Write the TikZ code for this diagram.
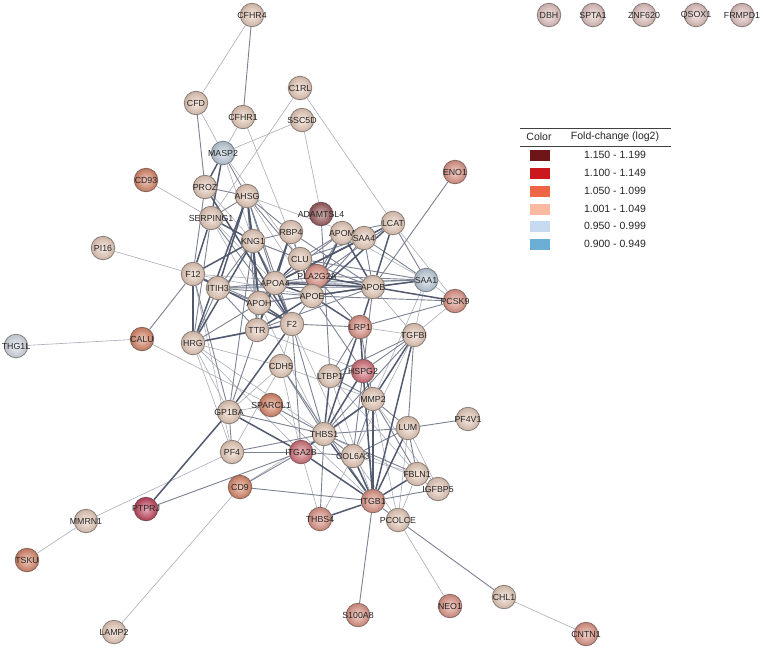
\documentclass[tikz,border=0pt]{standalone}
\usepackage{fontspec}
\setmainfont{Liberation Sans}
\pgfdeclarelayer{bg}
\pgfdeclarelayer{edges}
\pgfsetlayers{bg,edges,main}
\definecolor{pale}{HTML}{EFD2C0}
\definecolor{redd}{HTML}{E6998A}
\definecolor{orng}{HTML}{E08A6C}
\definecolor{pink}{HTML}{D9737C}
\definecolor{deep}{HTML}{C8455E}
\definecolor{mauve}{HTML}{9E5C5E}
\definecolor{blu}{HTML}{C3D3E2}
\definecolor{blul}{HTML}{DCE2EC}
\definecolor{lone}{HTML}{E9C9C6}
\definecolor{ethick}{HTML}{525A70}
\definecolor{emed}{HTML}{7C8292}
\definecolor{ethin}{HTML}{ABAEB8}
\definecolor{lg1}{HTML}{6E1518}
\definecolor{lg2}{HTML}{CB181D}
\definecolor{lg3}{HTML}{EF6548}
\definecolor{lg4}{HTML}{FCBBA1}
\definecolor{lg5}{HTML}{C6DBEF}
\definecolor{lg6}{HTML}{6BAED6}
\tikzset{
 ball/.style={circle, minimum size=23.5pt, inner sep=0pt, line width=0.8pt,
   draw=#1!45!black!80, inner color=white!55!#1, outer color=#1!85!black},
 np/.style={ball=pale}, nr/.style={ball=redd}, no/.style={ball=orng},
 nk/.style={ball=pink}, nd/.style={ball=deep}, nm/.style={ball=mauve},
 nb/.style={ball=blu}, nl/.style={ball=blul}, nx/.style={ball=lone},
 every label/.style={font=\fontsize{8.8}{10}\selectfont, text=black!85, inner sep=0pt},
 ec/.style={draw=ethick, line width=1.5pt},
 eb/.style={draw=emed, line width=0.9pt},
 ea/.style={draw=ethin, line width=0.6pt},
 sw/.style={minimum width=20pt, minimum height=11pt, inner sep=0pt},
 lt/.style={font=\fontsize{10.5}{12}\selectfont, text=black!85, inner sep=0pt}
}
\begin{document}
\begin{tikzpicture}[x=1pt,y=-1pt]
\begin{pgfonlayer}{bg}
\fill[white] (0,0) rectangle (763,651);
\end{pgfonlayer}
\useasboundingbox (0,0) rectangle (763,651);
% nodes
\node[np,label=center:CFHR4] (CFHR4) at (252,15) {};
\node[np,label=center:CFD] (CFD) at (196,103) {};
\node[np,label=center:CFHR1] (CFHR1) at (243,117) {};
\node[np,label=center:C1RL] (C1RL) at (300,88) {};
\node[np,label=center:SSC5D] (SSC5D) at (302,120) {};
\node[nb,label=center:MASP2] (MASP2) at (223,153) {};
\node[no,label=center:CD93] (CD93) at (146,180) {};
\node[np,label=center:PROZ] (PROZ) at (205,187) {};
\node[np,label=center:AHSG] (AHSG) at (247,196) {};
\node[np,label=center:SERPING1] (SERPING1) at (211,218) {};
\node[nm,label=center:ADAMTSL4] (ADAMTSL4) at (321,214) {};
\node[np,label=center:RBP4] (RBP4) at (291,232) {};
\node[np,label=center:APOM] (APOM) at (342,233) {};
\node[np,label=center:SAA4] (SAA4) at (364,238) {};
\node[np,label=center:LCAT] (LCAT) at (393,223) {};
\node[nr,label=center:ENO1] (ENO1) at (455,172) {};
\node[np,label=center:KNG1] (KNG1) at (253,241) {};
\node[np,label=center:CLU] (CLU) at (300,259) {};
\node[np,label=center:PI16] (PI16) at (103,248) {};
\node[np,label=center:F12] (F12) at (193,274) {};
\node[nr,label=center:PLA2G2A] (PLA2G2A) at (317,276) {};
\node[np,label=center:APOA4] (APOA4) at (275,283) {};
\node[np,label=center:ITIH3] (ITIH3) at (218,288) {};
\node[np,label=center:APOE] (APOE) at (312,296) {};
\node[np,label=center:APOB] (APOB) at (373,287) {};
\node[nb,label=center:SAA1] (SAA1) at (426,280) {};
\node[nr,label=center:PCSK9] (PCSK9) at (455,301) {};
\node[np,label=center:APOH] (APOH) at (259,303) {};
\node[np,label=center:TTR] (TTR) at (257,330) {};
\node[np,label=center:F2] (F2) at (292,324) {};
\node[nr,label=center:LRP1] (LRP1) at (360,327) {};
\node[np,label=center:TGFBI] (TGFBI) at (414,335) {};
\node[np,label=center:HRG] (HRG) at (193,343) {};
\node[no,label=center:CALU] (CALU) at (142,339) {};
\node[nl,label=center:THG1L] (THG1L) at (16,346) {};
\node[np,label=center:CDH5] (CDH5) at (281,366) {};
\node[np,label=center:LTBP1] (LTBP1) at (330,376) {};
\node[nk,label=center:HSPG2] (HSPG2) at (363,371) {};
\node[np,label=center:MMP2] (MMP2) at (373,399) {};
\node[no,label=center:SPARCL1] (SPARCL1) at (271,405) {};
\node[np,label=center:GP1BA] (GP1BA) at (229,412) {};
\node[np,label=center:LUM] (LUM) at (408,428) {};
\node[np,label=center:PF4V1] (PF4V1) at (468,419) {};
\node[np,label=center:THBS1] (THBS1) at (324,434) {};
\node[nk,label=center:ITGA2B] (ITGA2B) at (301,452) {};
\node[np,label=center:COL6A3] (COL6A3) at (353,456) {};
\node[np,label=center:PF4] (PF4) at (232,452) {};
\node[np,label=center:FBLN1] (FBLN1) at (417,474) {};
\node[np,label=center:IGFBP5] (IGFBP5) at (438,489) {};
\node[no,label=center:CD9] (CD9) at (240,487) {};
\node[nd,label=center:PTPRJ] (PTPRJ) at (146,509) {};
\node[nr,label=center:ITGB1] (ITGB1) at (373,501) {};
\node[nr,label=center:THBS4] (THBS4) at (320,519) {};
\node[np,label=center:PCOLCE] (PCOLCE) at (398,520) {};
\node[np,label=center:MMRN1] (MMRN1) at (86,521) {};
\node[no,label=center:TSKU] (TSKU) at (27,560) {};
\node[nr,label=center:S100A8] (S100A8) at (358,615) {};
\node[nr,label=center:NEO1] (NEO1) at (450,606) {};
\node[np,label=center:CHL1] (CHL1) at (504,597) {};
\node[nr,label=center:CNTN1] (CNTN1) at (586,634) {};
\node[np,label=center:LAMP2] (LAMP2) at (114,632) {};
\node[nx,label=center:DBH] (DBH) at (549,15) {};
\node[nx,label=center:SPTA1] (SPTA1) at (593,15) {};
\node[nx,label=center:ZNF620] (ZNF620) at (644,15) {};
\node[nx,label=center:QSOX1] (QSOX1) at (696,15) {};
\node[nx,label=center:FRMPD1] (FRMPD1) at (742,15) {};
% edges
\begin{pgfonlayer}{edges}
\foreach \a/\b in {CFHR4/CFD, CFD/MASP2, CFHR1/MASP2, CFHR1/CLU, C1RL/SERPING1, C1RL/LCAT,
 SSC5D/MASP2, SSC5D/ADAMTSL4, MASP2/CLU, MASP2/KNG1, CD93/SERPING1, PI16/F12, CALU/THG1L,
 CALU/SPARCL1, MMRN1/TSKU, MMRN1/PF4, CD9/LAMP2, PCOLCE/NEO1, CHL1/CNTN1, LCAT/PCSK9,
 SAA1/TGFBI, IGFBP5/THBS1, IGFBP5/MMP2, THBS4/ITGA2B, HRG/THBS1, TTR/HSPG2, ITIH3/SAA1,
 KNG1/APOB, AHSG/SAA4, SERPING1/APOH, PF4/HRG, LUM/IGFBP5, LUM/PCOLCE, FBLN1/COL6A3,
 FBLN1/PCOLCE, PCSK9/TGFBI, SAA1/MMP2, CDH5/MMP2, GP1BA/HRG, CDH5/GP1BA, APOH/THBS1,
 TGFBI/COL6A3, LTBP1/FBLN1, COL6A3/PCOLCE, THBS4/COL6A3, MMP2/PCOLCE, LRP1/TGFBI,
 CD9/THBS1, SPARCL1/ITGB1, F12/APOE, SERPING1/APOA4, PROZ/KNG1, AHSG/APOE, CDH5/F2,
 CDH5/PF4, ITGA2B/CDH5, HRG/CDH5, APOM/SAA1, PCSK9/SAA1, TGFBI/APOB, ITGB1/LTBP1,
 F2/ITGB1, PF4/F12, SPARCL1/GP1BA, F12/APOB, HRG/ITGA2B}
 \draw[ea] (\a) -- (\b);
\foreach \a/\b in {CFHR4/CFHR1, CFD/PROZ, CALU/F12, ENO1/APOB, PTPRJ/ITGA2B, CD9/ITGA2B,
 CD9/ITGB1, PCOLCE/CHL1, LUM/PF4V1, S100A8/ITGB1, PF4/ITGA2B, PF4/THBS1, PF4/GP1BA,
 ITGA2B/F2, ITGA2B/COL6A3, ITGA2B/MMP2, SAA1/LCAT, SAA1/SAA4, SAA1/APOA4, SAA1/CLU,
 SAA1/PLA2G2A, SAA1/APOE, PCSK9/LRP1, PCSK9/APOE, SAA4/APOB, SAA4/APOE, SAA4/LCAT, SAA4/CLU,
 RBP4/APOE, RBP4/APOB, RBP4/KNG1, RBP4/AHSG, AHSG/APOA4, AHSG/TTR, AHSG/SERPING1, AHSG/PROZ,
 AHSG/CLU, AHSG/F2, KNG1/ITIH3, KNG1/APOA4, KNG1/TTR, KNG1/CLU, F12/ITIH3, F12/APOH,
 F12/PROZ, ITIH3/APOH, ITIH3/APOA4, ITIH3/TTR, ITIH3/HRG, ITIH3/APOE, ITIH3/APOB,
 APOH/APOE, APOH/TTR, APOH/HRG, APOH/APOB, TTR/F2, TTR/HRG, TTR/APOB, F2/APOE, F2/APOA4,
 F2/SERPING1, F2/LRP1, F2/THBS1, HRG/SERPING1, CLU/APOB, CLU/PLA2G2A, CLU/APOM, CLU/LRP1,
 PLA2G2A/APOA4, PLA2G2A/APOM, PLA2G2A/LCAT, APOM/APOA4, APOM/LCAT, LRP1/MMP2, LRP1/ITGB1,
 LRP1/LTBP1, HSPG2/APOE, HSPG2/APOB, HSPG2/LTBP1, HSPG2/COL6A3, MMP2/LUM, MMP2/COL6A3,
 MMP2/FBLN1, MMP2/LTBP1, TGFBI/THBS1, TGFBI/LUM, TGFBI/HSPG2, TGFBI/LTBP1, COL6A3/THBS1,
 COL6A3/LUM, LUM/THBS1, LUM/FBLN1, FBLN1/THBS1, THBS4/THBS1, CDH5/THBS1, CDH5/ITGB1,
 SPARCL1/THBS1, GP1BA/THBS1, GP1BA/F12, GP1BA/KNG1, GP1BA/TTR, ITGB1/PCOLCE, ITGB1/IGFBP5,
 ADAMTSL4/LTBP1, MASP2/AHSG}
 \draw[eb] (\a) -- (\b);
\foreach \a/\b in {MASP2/SERPING1, MASP2/PROZ, PTPRJ/GP1BA, GP1BA/ITGA2B, GP1BA/F2,
 ITGA2B/ITGB1, ITGA2B/THBS1, THBS1/ITGB1, THBS1/MMP2, ITGB1/MMP2, ITGB1/TGFBI, SAA1/APOB,
 PCSK9/APOB, LRP1/APOE, LRP1/APOB, LRP1/HSPG2, HSPG2/ITGB1, APOA4/APOE, APOA4/APOB,
 APOE/APOB, APOE/CLU, APOA4/LCAT, RBP4/TTR, AHSG/KNG1, KNG1/F12, KNG1/HRG, F12/SERPING1,
 KNG1/SERPING1, PROZ/F2, AHSG/APOH, AHSG/HRG, F2/APOH, APOA4/CLU, APOB/LCAT, APOE/LCAT,
 APOM/APOE, APOM/APOB, APOA4/APOH, TTR/APOA4, F2/KNG1, ITIH3/AHSG, F12/F2, HRG/F2,
 THBS1/LRP1, THBS1/HSPG2, TGFBI/MMP2, ITGB1/LUM, ITGB1/COL6A3, ITGB1/FBLN1, LTBP1/THBS1,
 MMP2/HSPG2, ITGB1/THBS4, APOE/PLA2G2A, APOB/PLA2G2A, SAA4/APOA4, F12/HRG, RBP4/APOA4,
 TTR/APOE, KNG1/APOH}
 \draw[ec] (\a) -- (\b);
\end{pgfonlayer}
% legend
\coordinate (L1a) at (520,128); \coordinate (L1b) at (671,128);
\coordinate (L2a) at (520,146); \coordinate (L2b) at (671,146);
\draw[line width=0.8pt, black!75] (L1a) -- (L1b);
\draw[line width=0.8pt, black!75] (L2a) -- (L2b);
\node[lt] (hc) at (539,137) {Color};
\node[lt] (hf) at (615,137) {Fold-change (log2)};
\node[sw, fill=lg1] (s1) at (540,155) {}; \node[lt] (t1) at (615,155) {1.150 - 1.199};
\node[sw, fill=lg2] (s2) at (540,173) {}; \node[lt] (t2) at (615,173) {1.100 - 1.149};
\node[sw, fill=lg3] (s3) at (540,191) {}; \node[lt] (t3) at (615,191) {1.050 - 1.099};
\node[sw, fill=lg4] (s4) at (540,209) {}; \node[lt] (t4) at (615,209) {1.001 - 1.049};
\node[sw, fill=lg5] (s5) at (540,226) {}; \node[lt] (t5) at (615,226) {0.950 - 0.999};
\node[sw, fill=lg6] (s6) at (540,244) {}; \node[lt] (t6) at (615,244) {0.900 - 0.949};
\end{tikzpicture}
\end{document}
